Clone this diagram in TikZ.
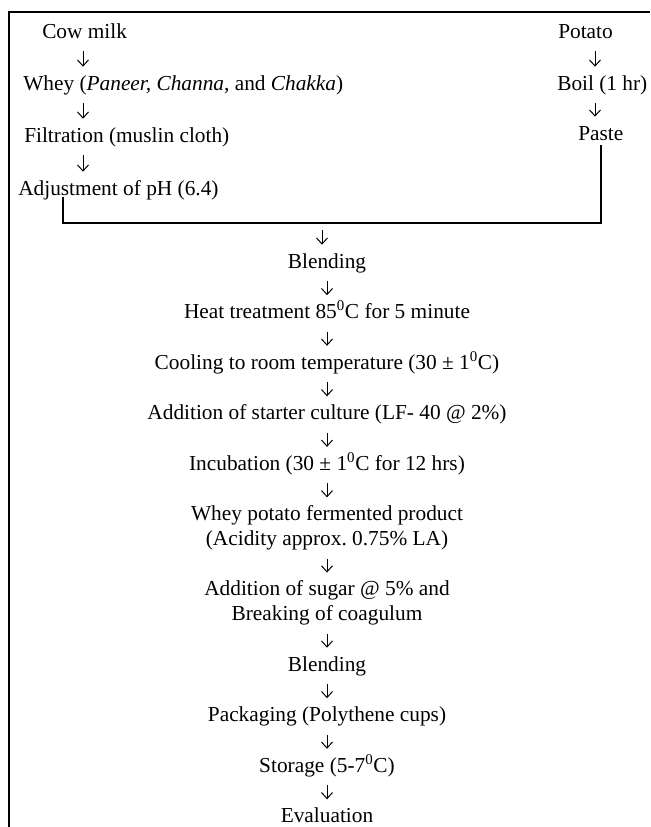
\documentclass[tikz,border=0pt]{standalone}
\usepackage{fontspec}
\setmainfont{Liberation Serif}
\usepackage{tikz}
\usetikzlibrary{arrows.meta,positioning}

\begin{document}
\begin{tikzpicture}[
    x=0.75pt, y=-0.75pt,
    node distance=22.5pt,
    stepbox/.style={
        inner sep=0pt,
        align=center,
        font=\fontsize{16}{18.75}\selectfont
    },
    onebox/.style={
        stepbox,
        text height=11.5pt,
        text depth=3.5pt
    },
    flow/.style={
        -{Straight Barb[length=1.6mm,width=2.9mm]},
        line width=0.75pt,
        shorten <=6pt,
        shorten >=6pt
    },
    frame/.style={
        line width=1.5pt
    },
    joinline/.style={
        line width=1.1pt
    }
]

\useasboundingbox (0,0) rectangle (650,827);

%---------------------------------------------------------------------
% Frame
%---------------------------------------------------------------------

\draw[frame] (9,827) -- (9,12) -- (650,12);

%---------------------------------------------------------------------
% Whey branch
%---------------------------------------------------------------------

\node[onebox, anchor=west] (milk) at (42,33) {Cow milk};
\node[onebox, anchor=west] (whey) at (23,85)
    {Whey (\textit{Paneer, Channa}, and \textit{Chakka})};
\node[onebox, anchor=west] (filter) at (24,137) {Filtration (muslin cloth)};
\node[onebox, anchor=west] (ph) at (18,190) {Adjustment of pH (6.4)};

\coordinate (laxis) at (83,0);

\draw[flow] (milk.south -| laxis) -- (whey.north -| laxis);
\draw[flow] (whey.south -| laxis) -- (filter.north -| laxis);
\draw[flow] (filter.south -| laxis) -- (ph.north -| laxis);

%---------------------------------------------------------------------
% Potato branch
%---------------------------------------------------------------------

\node[onebox, anchor=west] (potato) at (558,33) {Potato};
\node[onebox, anchor=west] (boil) at (557,85) {Boil (1 hr)};
\node[onebox, anchor=west] (paste) at (578,135) {Paste};

\coordinate (raxis) at (595,0);

\draw[flow] (potato.south -| raxis) -- (boil.north -| raxis);
\draw[flow] (boil.south -| raxis) -- (paste.north -| raxis);

%---------------------------------------------------------------------
% Main process
%---------------------------------------------------------------------

\node[onebox] (blend1) at (327,263) {Blending};
\node[onebox, below=of blend1] (heat)
    {Heat treatment 85\textsuperscript{0}C for 5 minute};
\node[onebox, below=of heat] (cool)
    {Cooling to room temperature (30 ± 1\textsuperscript{0}C)};
\node[onebox, below=of cool] (starter)
    {Addition of starter culture (LF- 40 @ 2\%)};
\node[onebox, below=of starter] (incub)
    {Incubation (30 ± 1\textsuperscript{0}C for 12 hrs)};
\node[stepbox, below=of incub] (ferment)
    {Whey potato fermented product\\(Acidity approx.\ 0.75\% LA)};
\node[stepbox, below=of ferment] (sugar)
    {Addition of sugar @ 5\% and\\Breaking of coagulum};
\node[onebox, below=of sugar] (blend2) {Blending};
\node[onebox, below=of blend2] (pack) {Packaging (Polythene cups)};
\node[onebox, below=of pack] (store) {Storage (5-7\textsuperscript{0}C)};
\node[onebox, below=of store] (eval) {Evaluation};

%---------------------------------------------------------------------
% Joining the two branches
%---------------------------------------------------------------------

\coordinate (phfoot) at (63,197);
\coordinate (join) at (322,223);

\draw[joinline] (phfoot) -- (phfoot |- join) -- (paste.south |- join)
    -- (paste.south);
\draw[flow, shorten <=5pt] (join) -- (join |- blend1.north);

%---------------------------------------------------------------------
% Main flow
%---------------------------------------------------------------------

\draw[flow] (blend1) -- (heat);
\draw[flow] (heat) -- (cool);
\draw[flow] (cool) -- (starter);
\draw[flow] (starter) -- (incub);
\draw[flow] (incub) -- (ferment);
\draw[flow] (ferment) -- (sugar);
\draw[flow] (sugar) -- (blend2);
\draw[flow] (blend2) -- (pack);
\draw[flow] (pack) -- (store);
\draw[flow] (store) -- (eval);

\end{tikzpicture}
\end{document}
